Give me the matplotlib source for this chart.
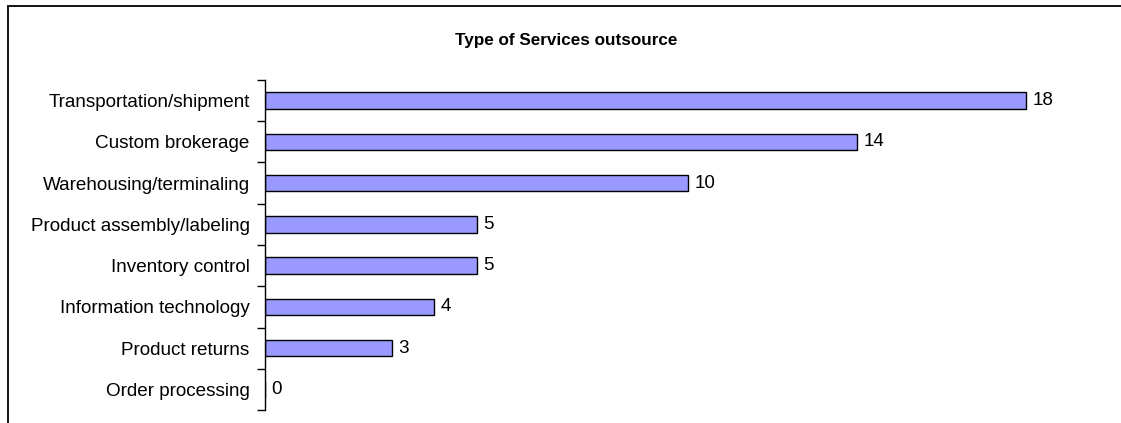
import matplotlib.pyplot as plt
from matplotlib.patches import Rectangle

plt.rcParams['font.family'] = ['Liberation Sans', 'DejaVu Sans']

services = [
    "Transportation/shipment",
    "Custom brokerage",
    "Warehousing/terminaling",
    "Product assembly/labeling",
    "Inventory control",
    "Information technology",
    "Product returns",
    "Order processing",
]
counts = [18, 14, 10, 5, 5, 4, 3, 0]

W, H = 1121, 423
fig = plt.figure(figsize=(W / 100, H / 100), dpi=100)
ax = fig.add_axes([265 / W, 1 - 410 / H, (1100 - 265) / W, (410 - 80) / H])

pos = list(range(len(services)))
ax.barh(pos, counts, height=0.40, color="#9999FF", edgecolor="black", linewidth=1.0)
for y, v in zip(pos, counts):
    ax.text(v + 0.15, y, str(v), va="center", ha="left", fontsize=13.6)

ax.set_ylim(len(services) - 0.5, -0.5)
ax.set_xlim(0, (1100 - 265) / 42.3)

# category labels at centres, tick marks at the boundaries
ax.set_yticks(pos)
ax.set_yticklabels(services, fontsize=13.6)
ax.tick_params(axis="y", which="major", length=0, pad=11)
ax.set_yticks([p - 0.5 for p in pos] + [len(services) - 0.5], minor=True)
ax.tick_params(axis="y", which="minor", length=6, width=1, direction="out")
ax.set_xticks([])
for s in ["top", "right", "bottom"]:
    ax.spines[s].set_visible(False)
ax.spines["left"].set_linewidth(1)

fig.text(566 / W, 1 - 40 / H, "Type of Services outsource", ha="center", va="center",
         fontsize=12.3, fontweight="bold")

# outer chart frame
fig.add_artist(Rectangle((8 / W, -0.2), 1.2, 1.2 - 6 / H, transform=fig.transFigure,
                         fill=False, edgecolor="black", linewidth=1.3, clip_on=False))

fig.savefig("out.png", dpi=100)
